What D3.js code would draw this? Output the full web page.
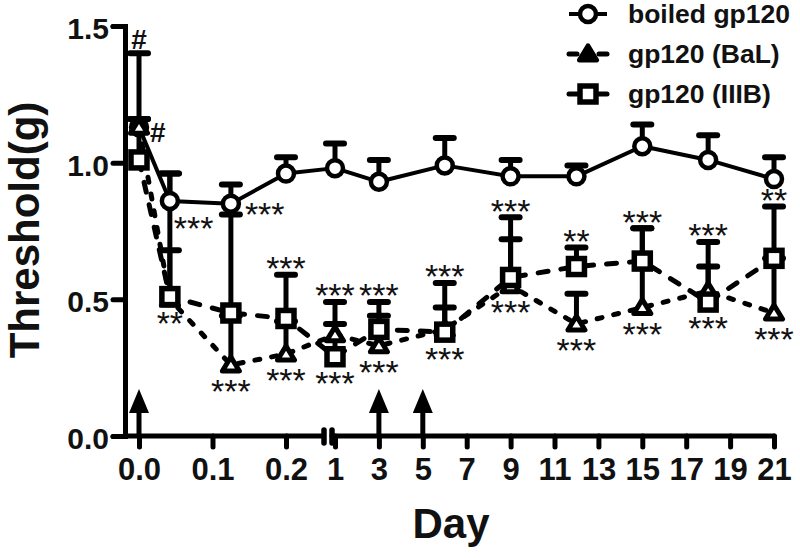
<!DOCTYPE html>
<html>
<head>
<meta charset="utf-8">
<script src="https://cdn.jsdelivr.net/npm/d3@7"></script>
<style>
  html, body { margin: 0; padding: 0; background: #fff; }
  svg { display: block; font-family: "Liberation Sans", Arial, sans-serif; }
</style>
</head>
<body>
<svg id="chart" width="800" height="558"></svg>
<script>
// ---------------- data ----------------
const days = [0, 0.042, 0.125, 0.2, 1, 3, 6, 9, 12, 15, 18, 21];
const boiledMean = [1.13, 0.86, 0.85, 0.96, 0.98, 0.93, 0.99, 0.95, 0.95, 1.06, 1.01, 0.94];
const boiledErr  = [0.03, 0.10, 0.07, 0.06, 0.09, 0.08, 0.10, 0.06, 0.04, 0.08, 0.09, 0.08];
const balMean    = [1.13, 0.50, 0.26, 0.30, 0.37, 0.33, 0.39, 0.55, 0.41, 0.47, 0.53, 0.45];
const balErr     = [0.27, 0.46, 0.18, 0.12, 0.12, 0.11, 0.08, 0.17, 0.11, 0.29, 0.18, 0.20];
const iiibMean   = [1.01, 0.51, 0.45, 0.43, 0.29, 0.39, 0.38, 0.58, 0.62, 0.64, 0.49, 0.65];
const iiibErr    = [0.15, 0.17, 0.36, 0.16, 0.12, 0.10, 0.18, 0.22, 0.07, 0.12, 0.13, 0.19];

const seriesNames = ["boiled gp120", "gp120 (BaL)", "gp120 (IIIB)"];
const earlyTicks = [0, 0.1, 0.2];
const lateTicks = [1, 3, 5, 7, 9, 11, 13, 15, 17, 19, 21];
const yTicks = [0, 0.5, 1.0, 1.5];
const arrowDays = [0, 3, 5];

const sigLabels = [
  {day: 0,     series: "bal",    text: "#",   place: "above"},
  {day: 0,     series: "boiled", text: "#",   place: "right"},
  {day: 0.042, series: "boiled", text: "***", place: "belowright"},
  {day: 0.042, series: "iiib",   text: "**",  place: "below"},
  {day: 0.125, series: "boiled", text: "***", place: "right"},
  {day: 0.125, series: "bal",    text: "***", place: "below"},
  {day: 0.2,   series: "iiib",   text: "***", place: "above"},
  {day: 0.2,   series: "bal",    text: "***", place: "below"},
  {day: 1,     series: "bal",    text: "***", place: "above"},
  {day: 1,     series: "iiib",   text: "***", place: "below"},
  {day: 3,     series: "iiib",   text: "***", place: "above"},
  {day: 3,     series: "bal",    text: "***", place: "below"},
  {day: 6,     series: "iiib",   text: "***", place: "above"},
  {day: 6,     series: "iiib",   text: "***", place: "below"},
  {day: 9,     series: "iiib",   text: "***", place: "above"},
  {day: 9,     series: "bal",    text: "***", place: "below"},
  {day: 12,    series: "iiib",   text: "**",  place: "above"},
  {day: 12,    series: "bal",    text: "***", place: "below"},
  {day: 15,    series: "iiib",   text: "***", place: "above"},
  {day: 15,    series: "bal",    text: "***", place: "below"},
  {day: 18,    series: "bal",    text: "***", place: "above"},
  {day: 18,    series: "iiib",   text: "***", place: "below"},
  {day: 21,    series: "iiib",   text: "**",  place: "above"},
  {day: 21,    series: "bal",    text: "***", place: "below"}
];

// ---------------- layout ----------------
const svg = d3.select("#chart");
const FONT = '"Liberation Sans", Arial, sans-serif';
const axisX0 = 125, axisY0 = 436, breakL = 324, breakR = 332, axisXEnd = 774;

const xEarly = d3.scaleLinear().domain([0, 0.2]).range([139, 286]);
const xLate  = d3.scaleLinear().domain([1, 21]).range([335, 774]);
const x = d => (d < 0.5 ? xEarly(d) : xLate(d));
const y = d3.scaleLinear().domain([0, 1.5]).range([axisY0, 26]);

const series = {
  boiled: {mean: boiledMean, err: boiledErr, shape: "circle", dash: null,     width: 4},
  bal:    {mean: balMean,    err: balErr,    shape: "triangle", dash: "5,12", width: 5},
  iiib:   {mean: iiibMean,   err: iiibErr,   shape: "square", dash: "10,13",  width: 5}
};
const order = ["boiled", "bal", "iiib"];

// ---------------- axes ----------------
const yAxisG = svg.append("g").attr("transform", `translate(${axisX0},0)`)
  .call(d3.axisLeft(y).tickValues(yTicks).tickFormat(d3.format(".1f")).tickSize(12).tickPadding(4));
yAxisG.selectAll("path, line").attr("stroke", "#000").attr("stroke-width", 5).attr("stroke-linecap", "round");
yAxisG.selectAll("text").attr("font-family", FONT).attr("font-weight", "bold")
  .attr("font-size", 30).attr("fill", "#111").attr("dy", "0.42em");

function styleX(g) {
  g.select(".domain").remove();
  g.selectAll("line").attr("stroke", "#000").attr("stroke-width", 5).attr("stroke-linecap", "round");
  g.selectAll("text").attr("font-family", FONT).attr("font-weight", "bold")
    .attr("font-size", 31).attr("fill", "#111");
}
svg.append("g").attr("transform", `translate(0,${axisY0})`)
  .call(d3.axisBottom(xEarly).tickValues(earlyTicks).tickFormat(d3.format(".1f")).tickSize(11).tickPadding(11))
  .call(styleX);
svg.append("g").attr("transform", `translate(0,${axisY0})`)
  .call(d3.axisBottom(xLate).tickValues(lateTicks).tickFormat(d3.format("d")).tickSize(11).tickPadding(11))
  .call(styleX);

// axis line segments with break
svg.append("line").attr("x1", axisX0).attr("x2", breakL).attr("y1", axisY0).attr("y2", axisY0)
  .attr("stroke", "#000").attr("stroke-width", 5);
svg.append("line").attr("x1", breakR).attr("x2", axisXEnd).attr("y1", axisY0).attr("y2", axisY0)
  .attr("stroke", "#000").attr("stroke-width", 5).attr("stroke-linecap", "round");
[breakL, breakR].forEach(bx => {
  svg.append("line").attr("x1", bx).attr("x2", bx).attr("y1", axisY0 - 6).attr("y2", axisY0 + 7)
    .attr("stroke", "#000").attr("stroke-width", 5.5).attr("stroke-linecap", "round");
});

// axis titles
svg.append("text").attr("x", 451).attr("y", 538).attr("text-anchor", "middle")
  .attr("font-family", FONT).attr("font-weight", "bold").attr("font-size", 42).attr("fill", "#111")
  .text("Day");
svg.append("text").attr("transform", "translate(39,230) rotate(-90)").attr("text-anchor", "middle")
  .attr("font-family", FONT).attr("font-weight", "bold").attr("font-size", 42).attr("fill", "#111")
  .text("Threshold(g)");

// arrows (injection days)
arrowDays.forEach(d => {
  const ax = x(d);
  svg.append("line").attr("x1", ax).attr("x2", ax).attr("y1", axisY0).attr("y2", 408)
    .attr("stroke", "#000").attr("stroke-width", 5);
  svg.append("path").attr("d", `M${ax},389 L${ax + 10},413 L${ax - 10},413 Z`).attr("fill", "#000");
});

// ---------------- series ----------------
const pts = key => days.map((d, i) => ({d, m: series[key].mean[i], e: series[key].err[i]}));

// lines
order.forEach(key => {
  const s = series[key];
  svg.append("path").datum(pts(key))
    .attr("d", d3.line().x(p => x(p.d)).y(p => y(p.m)))
    .attr("fill", "none").attr("stroke", "#000").attr("stroke-width", s.width)
    .attr("stroke-dasharray", s.dash).attr("stroke-linecap", s.dash ? "round" : "butt")
    .attr("stroke-linejoin", "round");
});

// error bars
order.forEach(key => {
  const g = svg.append("g");
  pts(key).forEach(p => {
    const px = x(p.d);
    g.append("line").attr("x1", px).attr("x2", px).attr("y1", y(p.m)).attr("y2", y(p.m + p.e))
      .attr("stroke", "#000").attr("stroke-width", 5);
    g.append("line").attr("x1", px - 9).attr("x2", px + 9).attr("y1", y(p.m + p.e)).attr("y2", y(p.m + p.e))
      .attr("stroke", "#000").attr("stroke-width", 6).attr("stroke-linecap", "round");
  });
});

function drawMarker(g, shape, cx, cy, filled) {
  if (shape === "circle") {
    g.append("circle").attr("cx", cx).attr("cy", cy).attr("r", 8)
      .attr("fill", "#fff").attr("stroke", "#000").attr("stroke-width", 4.5);
  } else if (shape === "square") {
    g.append("rect").attr("x", cx - 8).attr("y", cy - 8).attr("width", 16).attr("height", 16)
      .attr("fill", filled ? "#000" : "#fff").attr("stroke", "#000").attr("stroke-width", 5.5);
  } else {
    g.append("path").attr("d", `M${cx},${cy - 8} L${cx + 8.5},${cy + 6} L${cx - 8.5},${cy + 6} Z`)
      .attr("fill", filled ? "#000" : "#fff").attr("stroke", "#000").attr("stroke-width", 5)
      .attr("stroke-linejoin", "round");
  }
}

// markers
order.forEach(key => {
  const g = svg.append("g");
  pts(key).forEach(p => drawMarker(g, series[key].shape, x(p.d), y(p.m), false));
});

// significance labels
sigLabels.forEach(l => {
  const s = series[l.series];
  const i = days.indexOf(l.day);
  const px = x(l.day), pm = y(s.mean[i]), pt = y(s.mean[i] + s.err[i]);
  const isHash = l.text === "#";
  const fs = isHash ? 28 : 34;
  const base = isHash ? 0.35 * fs : 0.57 * fs; // baseline offset from visual centre
  let tx = px, cy = 0, anchor = "middle";
  if (l.place === "above") { cy = pt - 14; }
  else if (l.place === "below") { cy = pm + 19; }
  else if (l.place === "right") { tx = px + (isHash ? 11 : 14); cy = pm + (isHash ? 5 : 3); anchor = "start"; }
  else if (l.place === "belowright") { tx = px + 4; cy = pm + 20; anchor = "start"; }
  svg.append("text").attr("x", tx).attr("y", cy + base).attr("text-anchor", anchor)
    .attr("font-family", FONT).attr("font-weight", isHash ? "bold" : "normal")
    .attr("font-size", fs).attr("fill", "#111").text(l.text);
});

// ---------------- legend ----------------
order.forEach((key, k) => {
  const s = series[key];
  const ly = 14 + k * 40;
  const g = svg.append("g");
  if (s.dash) {
    [[569, 577], [599, 607]].forEach(([a, b]) => {
      g.append("line").attr("x1", a).attr("x2", b).attr("y1", ly).attr("y2", ly)
        .attr("stroke", "#000").attr("stroke-width", 5).attr("stroke-linecap", "round");
    });
  } else {
    g.append("line").attr("x1", 569).attr("x2", 607).attr("y1", ly).attr("y2", ly)
      .attr("stroke", "#000").attr("stroke-width", 4);
  }
  drawMarker(g, s.shape, 588, ly, s.shape === "triangle");
  g.append("text").attr("x", 628).attr("y", ly + 9)
    .attr("font-family", FONT).attr("font-weight", "bold").attr("font-size", 26.5).attr("fill", "#111")
    .text(seriesNames[k]);
});
</script>
</body>
</html>
